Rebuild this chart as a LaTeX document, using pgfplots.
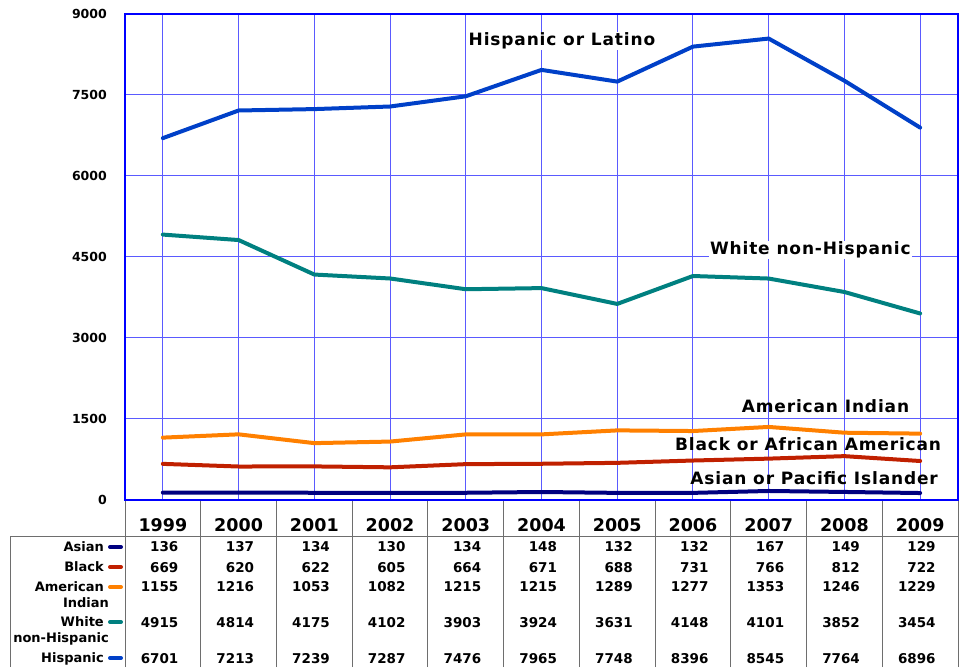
\documentclass[border=0pt]{standalone}
\usepackage{pgfplots}
\usepackage{pgfplotstable}
\pgfplotsset{compat=1.18}
\usepackage{fontspec}
\setmainfont{DejaVu Sans}
\newfontfamily\lblfont[LetterSpace=5]{DejaVu Sans}
\definecolor{chisp}{RGB}{0,64,200}
\definecolor{cwhite}{RGB}{0,128,128}
\definecolor{camind}{RGB}{255,128,0}
\definecolor{cblack}{RGB}{192,32,0}
\definecolor{casian}{RGB}{0,0,128}
\definecolor{gridblue}{RGB}{90,90,255}
\definecolor{tblgray}{RGB}{110,110,110}
\pgfplotstableread{
x year asian black amind white hisp
0 1999 136 669 1155 4915 6701
1 2000 137 620 1216 4814 7213
2 2001 134 622 1053 4175 7239
3 2002 130 605 1082 4102 7287
4 2003 134 664 1215 3903 7476
5 2004 148 671 1215 3924 7965
6 2005 132 688 1289 3631 7748
7 2006 132 731 1277 4148 8396
8 2007 167 766 1353 4101 8545
9 2008 149 812 1246 3852 7764
10 2009 129 722 1229 3454 6896
}\data
\begin{document}
\begin{tikzpicture}
\useasboundingbox (0pt,0pt) rectangle (964pt,667pt);
\begin{axis}[
  at={(125pt,167pt)}, anchor=south west,
  scale only axis, width=833pt, height=486pt,
  xmin=-0.5, xmax=10.5, ymin=0, ymax=9000,
  xtick={0,...,10}, xticklabels={},
  ytick={0,1500,...,9000},
  major tick length=0pt,
  xmajorgrids, ymajorgrids,
  grid style={gridblue, line width=1pt},
  axis line style={blue, line width=1.5pt},
  /pgf/number format/assume math mode=true,
  /pgf/number format/1000 sep={},
  yticklabel style={font=\fontsize{12.5}{14}\selectfont\bfseries, inner sep=0pt, xshift=-18pt},
  every axis plot/.append style={line width=4pt, line join=round, line cap=round, mark=none},
  clip=false,
]
\addplot[chisp] table[x=x,y=hisp]{\data};
\addplot[cwhite] table[x=x,y=white]{\data};
\addplot[camind] table[x=x,y=amind]{\data};
\addplot[cblack] table[x=x,y=black]{\data};
\addplot[casian] table[x=x,y=asian]{\data};
\node[fill=white, inner sep=1pt, font=\lblfont\fontsize{17}{19}\selectfont\bfseries] at (axis cs:5.27,8500) {Hispanic or Latino};
\node[fill=white, inner sep=1pt, font=\lblfont\fontsize{17}{19}\selectfont\bfseries] at (axis cs:8.55,4630) {White non-Hispanic};
\node[inner sep=1pt, font=\lblfont\fontsize{17}{19}\selectfont\bfseries] at (axis cs:8.75,1741) {American Indian};
\node[inner sep=1pt, font=\lblfont\fontsize{17}{19}\selectfont\bfseries] at (axis cs:8.52,1037) {Black or African American};
\node[inner sep=1pt, font=\lblfont\fontsize{17}{19}\selectfont\bfseries] at (axis cs:8.60,407) {Asian or Pacific Islander};
\end{axis}
\begin{axis}[
  at={(125pt,0pt)}, anchor=south west,
  scale only axis, width=833pt, height=166pt,
  xmin=-0.5, xmax=10.5, ymin=0, ymax=166,
  xtick={-0.5,0.5,...,10.5}, xticklabels={},
  ytick=\empty,
  major tick length=0pt,
  xmajorgrids,
  grid style={tblgray, line width=1pt},
  axis line style={draw=none},
  clip=false,
  nodes near coords,
  point meta=explicit symbolic,
]
\addplot[draw=none, mark=none, nodes near coords style={anchor=base, font=\fontsize{17.5}{19}\selectfont\bfseries}] table[x=x, y expr=135.8, meta=year]{\data};
\addplot[draw=none, mark=none, nodes near coords style={anchor=base east, xshift=19pt, font=\fontsize{13.5}{15}\selectfont\bfseries}] table[x=x, y expr=115, meta=asian]{\data};
\addplot[draw=none, mark=none, nodes near coords style={anchor=base east, xshift=19pt, font=\fontsize{13.5}{15}\selectfont\bfseries}] table[x=x, y expr=95, meta=black]{\data};
\addplot[draw=none, mark=none, nodes near coords style={anchor=base east, xshift=19pt, font=\fontsize{13.5}{15}\selectfont\bfseries}] table[x=x, y expr=75, meta=amind]{\data};
\addplot[draw=none, mark=none, nodes near coords style={anchor=base east, xshift=19pt, font=\fontsize{13.5}{15}\selectfont\bfseries}] table[x=x, y expr=40, meta=white]{\data};
\addplot[draw=none, mark=none, nodes near coords style={anchor=base east, xshift=19pt, font=\fontsize{13.5}{15}\selectfont\bfseries}] table[x=x, y expr=4, meta=hisp]{\data};
\end{axis}
\draw[tblgray, line width=1pt] (10pt,130pt) -- (958pt,130pt);
\draw[tblgray, line width=1pt] (10pt,130pt) -- (10pt,0pt);
\begin{scope}[every node/.style={font=\fontsize{13}{15}\selectfont\bfseries, inner sep=0pt}]
\node[anchor=base east] at (104pt,115.3pt) {Asian};
\node[anchor=base east] at (104pt,95.3pt) {Black};
\node[anchor=base east] at (104pt,75.3pt) {American};
\node[anchor=base] at (86pt,59.3pt) {Indian};
\node[anchor=base east] at (104pt,40.3pt) {White};
\node[anchor=base] at (61pt,24.3pt) {non-Hispanic};
\node[anchor=base east] at (104pt,4.3pt) {Hispanic};
\end{scope}
\begin{scope}[line width=4pt, line cap=round]
\draw[casian] (110pt,120pt) -- (121pt,120pt);
\draw[cblack] (110pt,100pt) -- (121pt,100pt);
\draw[camind] (110pt,80pt) -- (121pt,80pt);
\draw[cwhite] (110pt,45pt) -- (121pt,45pt);
\draw[chisp] (110pt,9pt) -- (121pt,9pt);
\end{scope}
\end{tikzpicture}
\end{document}
